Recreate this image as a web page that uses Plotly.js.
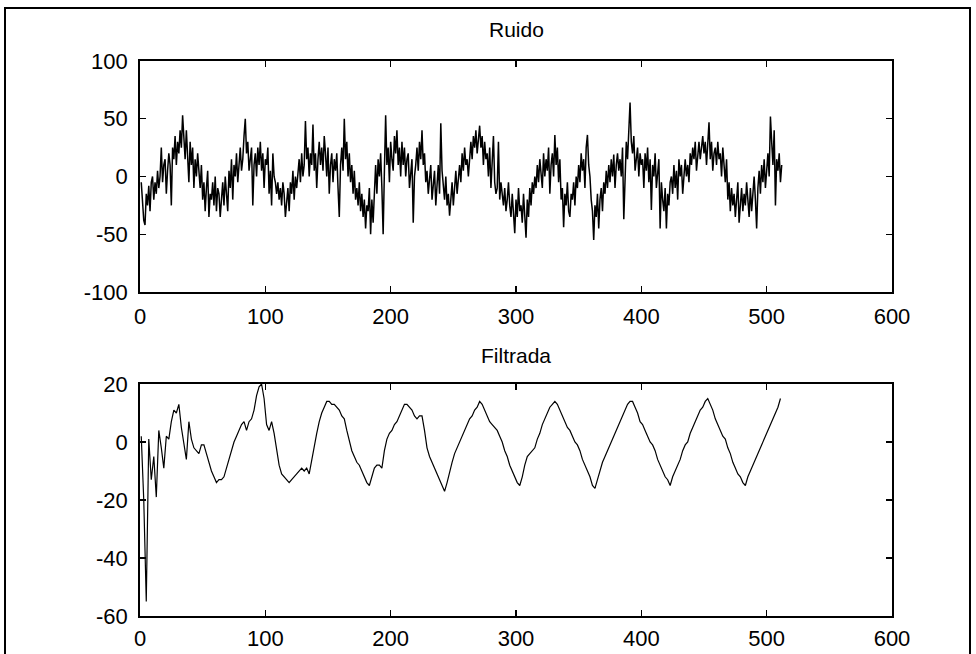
<!DOCTYPE html>
<html>
<head>
<meta charset="utf-8">
<script src="https://cdn.plot.ly/plotly-3.0.1.min.js"></script>
<style>
  html, body { margin: 0; padding: 0; background: #fff; }
  #chart { width: 976px; height: 654px; }
</style>
</head>
<body>
<div id="chart"></div>
<script>
// ---- Data ----
const titleTop = "Ruido";
const titleBottom = "Filtrada";

// Noise samples (n = 1..512)
const ruido = [
  -5, -20, -38, -42, -15, -25, -8, -30, -5, 0, -20, -5, -15, 5, -10, 0,
  25, -5, 10, 15, -15, 5, 20, 10, -25, 25, 15, 35, 10, 30, 20, 40,
  25, 53, 30, 15, 40, 20, -5, 30, 10, 25, -10, 15, 0, 20, 5, -10,
  10, -20, -5, -30, -10, 5, -35, -15, -20, -5, -25, 0, -30, -10, -15, -35,
  -20, -5, -25, 0, -15, -30, 5, -10, 15, -20, 10, 0, 20, -5, 10, 25,
  5, 15, 35, 50, 20, 30, 5, 15, 25, -25, 10, 20, 0, 25, 10, 30,
  5, 20, -10, 15, 10, 25, -15, 5, -25, 20, 0, -5, -15, -5, -20, -10,
  -25, -5, -15, -35, -20, -10, -30, -5, -15, 5, -20, 0, -10, 5, 15, -5,
  20, 0, 10, 48, 15, 25, 0, 20, 10, 45, 5, 20, -10, 15, 30, 10,
  25, 5, 35, 20, 0, 25, -15, 10, 20, -5, 15, 5, 20, -10, -35, 10,
  25, 5, 50, 15, 30, 0, 20, -5, 10, -15, 5, -20, -10, -25, -5, -30,
  -15, -35, -20, -45, -25, -30, -10, -50, -20, -40, -5, 10, -15, 15, 0, 20,
  -10, -50, 5, 53, 10, 25, -5, 30, 15, 5, 35, 20, 40, 10, 25, 0,
  30, 10, 25, 0, 15, 20, -10, 5, 15, -40, 0, 10, 25, 5, 30, 15,
  40, 10, 20, -5, 5, -15, 0, 10, -20, -5, 5, -25, -10, 10, -15, 46,
  5, -10, -20, 0, -25, -15, -34, -20, -5, -25, -10, 5, -15, 0, 10, -5,
  20, 5, 25, 10, 15, 0, 20, 30, 15, 35, 25, 40, 20, 30, 44, 25,
  35, 10, 30, 15, 20, 0, 25, -10, 10, 35, -5, -15, -10, 30, -20, -5,
  -15, -25, -10, -30, -20, -5, -25, -35, -15, -30, -49, -20, -35, -10, -30, -25,
  -40, -15, -30, -53, -20, -35, -10, -25, -5, -15, 0, -10, 10, -5, 15, 5,
  -10, 20, 0, 15, 5, 25, -15, 10, 20, 0, 36, 10, 25, -5, 15, -20,
  -10, -44, -15, -25, -5, -30, -35, -15, -20, -5, -25, 0, -10, 10, -5, 20,
  5, 15, -10, 25, 36, 10, 0, -20, -30, -55, -25, -35, -15, -45, -20, -10,
  -30, -5, -15, 5, -10, 10, -5, 15, 0, 19, -10, 10, 20, 5, 15, 0,
  25, -37, 10, 30, 15, 40, 64, 30, 20, 35, 5, 15, 25, 0, 20, 10,
  15, -10, 20, 5, 25, -5, 15, -29, 10, 0, 20, -10, 5, 15, -45, -5,
  -20, -30, -10, -45, -15, -25, -5, 0, -15, 10, -10, 5, -20, 15, 0, 10,
  -15, 5, 15, 0, 10, -5, 20, 10, 25, 15, 30, 5, 20, 30, 15, 25,
  35, 20, 30, 10, 25, 47, 15, 30, 5, 20, 25, 10, 30, 15, 20, 0,
  25, 10, -5, 15, -20, -5, -30, -10, -25, -15, -35, -20, -5, -40, -25, -10,
  -30, -15, -25, -5, -20, -35, -10, -30, -15, 0, -20, -45, -10, 5, -15, 10,
  -5, 15, -10, 5, 20, 0, 52, 30, 10, 40, -25, 15, 5, 20, -5, 10
];

// Filtered signal, read every 2nd sample (n = 1, 3, 5, ... 511)
const filtrada = [
  2, -20, -55, 1, -13, -5, -19, 4, -2, -9, 2, 1, 7, 11, 10, 13,
  5, -1, -6, 7, 1, -2, -3, -4, -1, -1, -4, -7, -10, -12, -14, -13,
  -13, -12, -9, -6, -3, 0, 2, 4, 6, 7, 4, 7, 8, 11, 16, 19,
  20, 15, 6, 4, 7, 3, -3, -8, -11, -12, -13, -14, -13, -12, -11, -10,
  -9, -10, -9, -11, -6, -1, 3, 7, 10, 12, 14, 14, 13, 13, 12, 11,
  9, 8, 4, 0, -3, -5, -7, -8, -10, -12, -14, -15, -12, -9, -8, -8,
  -9, -3, 1, 3, 4, 6, 7, 9, 11, 13, 13, 12, 11, 9, 8, 9,
  9, 4, -2, -5, -7, -9, -11, -13, -15, -17, -14, -10, -7, -4, -2, 0,
  2, 4, 6, 8, 9, 11, 12, 14, 13, 11, 9, 7, 6, 5, 4, 2,
  0, -3, -5, -8, -10, -12, -14, -15, -12, -8, -5, -4, -3, -2, 1, 3,
  6, 8, 10, 12, 13, 14, 13, 11, 9, 7, 5, 4, 2, 0, -1, -3,
  -6, -8, -10, -12, -15, -16, -13, -10, -7, -5, -3, -1, 1, 3, 5, 7,
  9, 11, 13, 14, 14, 12, 10, 7, 6, 4, 2, 0, -1, -3, -6, -8,
  -10, -12, -13, -15, -12, -10, -8, -6, -3, -1, 0, 3, 5, 7, 9, 11,
  12, 14, 15, 13, 11, 8, 6, 4, 2, 1, -2, -4, -7, -9, -11, -12,
  -14, -15, -12, -10, -8, -6, -4, -2, 0, 2, 4, 6, 8, 10, 12, 15
];
const filtradaStep = 2;

const xTicks = [0, 100, 200, 300, 400, 500, 600];
const xTickText = ["0", "100", "200", "300", "400", "500", "600"];
const yTicksTop = [-100, -50, 0, 50, 100];
const yTickTextTop = ["-100", "-50", "0", "50", "100"];
const yTicksBottom = [-60, -40, -20, 0, 20];
const yTickTextBottom = ["-60", "-40", "-20", "0", "20"];

// ---- Build traces ----
const xRuido = ruido.map((_, i) => i + 1);
const xFilt = filtrada.map((_, i) => i * filtradaStep + 1);

const FONT = "Liberation Sans Narrow, Liberation Sans, Arial, sans-serif";

const traces = [
  { x: xRuido, y: ruido, type: "scatter", mode: "lines",
    line: { color: "#000", width: 1.5 }, xaxis: "x", yaxis: "y", hoverinfo: "skip" },
  { x: xFilt, y: filtrada, type: "scatter", mode: "lines",
    line: { color: "#000", width: 1.2 }, xaxis: "x2", yaxis: "y2", hoverinfo: "skip" }
];

function axis(extra) {
  return Object.assign({
    showgrid: false, zeroline: false,
    showline: true, linecolor: "#000", linewidth: 1.8,
    mirror: "ticks", ticks: "inside", ticklen: 6, tickwidth: 1.3, tickcolor: "#000",
    tickmode: "array",
    tickfont: { family: FONT, size: 22, color: "#000" },
    fixedrange: true
  }, extra);
}

const W = 976, H = 654;
const px = v => v / W;
const py = v => 1 - v / H;

const layout = {
  width: W, height: H,
  margin: { l: 0, r: 0, t: 0, b: 0 },
  paper_bgcolor: "#fff", plot_bgcolor: "#fff",
  showlegend: false,
  xaxis: axis({ domain: [px(140), px(892)], range: [0, 600], tickvals: xTicks, ticktext: xTickText,
                anchor: "y", ticklabelstandoff: 4 }),
  yaxis: axis({ domain: [py(292), py(61)], range: [-100, 100], tickvals: yTicksTop, ticktext: yTickTextTop,
                anchor: "x", ticklabelstandoff: 6 }),
  xaxis2: axis({ domain: [px(140), px(892)], range: [0, 600], tickvals: xTicks, ticktext: xTickText,
                 anchor: "y2", ticklabelstandoff: 2 }),
  yaxis2: axis({ domain: [py(616), py(384)], range: [-60, 20], tickvals: yTicksBottom, ticktext: yTickTextBottom,
                 anchor: "x2", ticklabelstandoff: 6 }),
  annotations: [
    { text: titleTop, xref: "paper", yref: "paper", x: px(516), y: py(30),
      xanchor: "center", yanchor: "middle", showarrow: false,
      font: { family: FONT, size: 21, color: "#000" } },
    { text: titleBottom, xref: "paper", yref: "paper", x: px(516), y: py(355),
      xanchor: "center", yanchor: "middle", showarrow: false,
      font: { family: FONT, size: 21, color: "#000" } }
  ],
  shapes: [
    { type: "rect", xref: "paper", yref: "paper",
      x0: px(5), x1: px(970), y0: -0.02, y1: py(8),
      line: { color: "#000", width: 2 }, fillcolor: "rgba(0,0,0,0)", layer: "below" }
  ]
};

Plotly.newPlot("chart", traces, layout, { staticPlot: true, displayModeBar: false });
</script>
</body>
</html>
